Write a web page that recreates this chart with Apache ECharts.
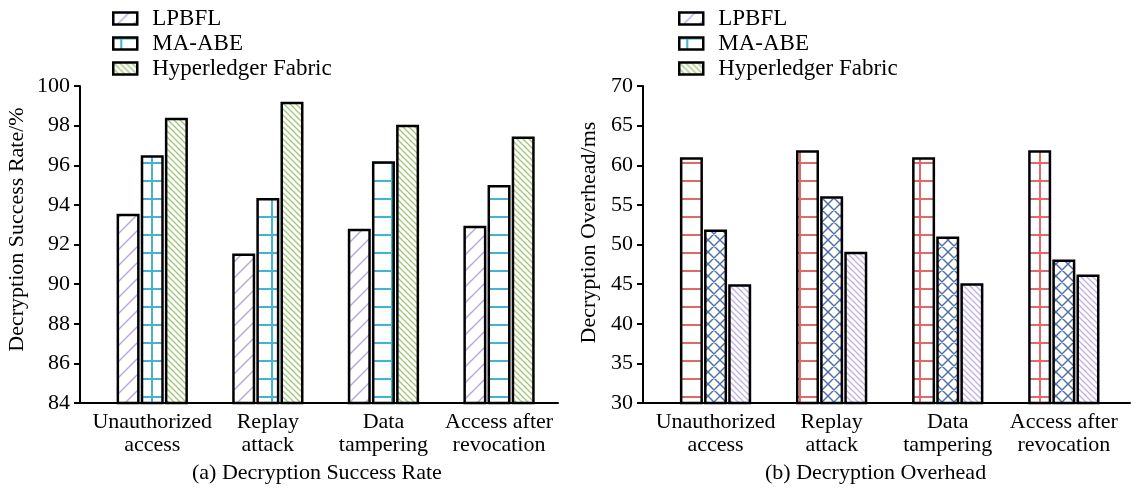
<!DOCTYPE html>
<html>
<head>
<meta charset="utf-8">
<script src="https://cdn.jsdelivr.net/npm/echarts@6/dist/echarts.min.js"></script>
<style>
  html, body { margin: 0; padding: 0; background: #fff; }
  #chart { width: 1137px; height: 488px; }
</style>
</head>
<body>
<div id="chart"></div>
<script>
// categories (x axis)
const categories = ['Unauthorized\naccess', 'Replay\nattack', 'Data\ntampering', 'Access after\nrevocation'];
const seriesNames = ['LPBFL', 'MA-ABE', 'Hyperledger Fabric'];

// (a) decryption success rate, %
const rateLPBFL = [93.55, 91.55, 92.8, 92.95];
const rateMAABE = [96.5, 94.35, 96.2, 95.0];
const rateFabric = [98.4, 99.2, 98.05, 97.45];

// (b) decryption overhead, ms
const costLPBFL = [61.0, 61.9, 61.0, 61.9];
const costMAABE = [51.9, 56.1, 51.0, 48.1];
const costFabric = [45.0, 49.1, 45.1, 46.2];

const FONT = "'Liberation Serif', 'Times New Roman', serif";

// pattern helpers
function makePattern(w, h, color, lw, draw) {
  const c = document.createElement('canvas');
  c.width = w; c.height = h;
  const ctx = c.getContext('2d');
  ctx.fillStyle = '#fff';
  ctx.fillRect(0, 0, w, h);
  ctx.strokeStyle = color;
  ctx.lineWidth = lw;
  ctx.beginPath();
  draw(ctx, w, h);
  ctx.stroke();
  return { image: c, repeat: 'repeat' };
}
function slash(ctx, w, h) {
  ctx.moveTo(0, h); ctx.lineTo(w, 0);
  ctx.moveTo(-2, 2); ctx.lineTo(2, -2);
  ctx.moveTo(w - 2, h + 2); ctx.lineTo(w + 2, h - 2);
}
function backslash(ctx, w, h) {
  ctx.moveTo(0, 0); ctx.lineTo(w, h);
  ctx.moveTo(w - 2, -2); ctx.lineTo(w + 2, 2);
  ctx.moveTo(-2, h - 2); ctx.lineTo(2, h + 2);
}
function grid(ctx, w, h) {
  ctx.moveTo(w / 3, 0); ctx.lineTo(w / 3, h);
  ctx.moveTo(0, 1); ctx.lineTo(w, 1);
}
function cross(ctx, w, h) {
  slash(ctx, w, h);
  backslash(ctx, w, h);
}

const patPurpleSparse = makePattern(16, 16, '#b7a6dc', 1.4, slash);
const patBlueGrid = makePattern(24, 18, '#45b3d3', 2, grid);
const patGreenDense = makePattern(6, 6, '#a6c77a', 1.4, backslash);
const patRedGrid = makePattern(24, 18, '#e06a6a', 2, grid);
const patBlueCross = makePattern(12, 12, '#4b6ea8', 1.4, cross);
const patPurpleDense = makePattern(6, 6, '#c3b3e2', 1.4, backslash);

const leftPats = [patPurpleSparse, patBlueGrid, patGreenDense];
const rightPats = [patRedGrid, patBlueCross, patPurpleDense];

function barSeries(name, values, pattern, idx) {
  return {
    type: 'bar',
    name: name,
    xAxisIndex: idx,
    yAxisIndex: idx,
    barWidth: 23,
    barGap: '5%',
    data: values.map((v, i) => [i, v]),
    itemStyle: { color: pattern, borderColor: '#000', borderWidth: 2.5 },
    emphasis: { disabled: true }
  };
}

function legendFor(left) {
  return {
    orient: 'vertical',
    left: left,
    top: 2,
    itemWidth: 24,
    itemHeight: 12,
    itemGap: 2,
    selectedMode: false,
    textStyle: { fontFamily: FONT, fontSize: 23, color: '#000', lineHeight: 20, padding: [0, 0, 0, 10] },
    data: seriesNames.map((n, i) => ({
      name: n,
      icon: 'rect',
      itemStyle: { color: leftPats[i], borderColor: '#000', borderWidth: 2.5 }
    }))
  };
}

function xAxisFor(idx, max) {
  return {
    type: 'value',
    gridIndex: idx,
    min: -0.625,
    max: max,
    splitLine: { show: false },
    axisTick: { show: false },
    axisLine: { show: true, onZero: false, lineStyle: { color: '#000', width: 2 } },
    axisLabel: {
      customValues: [0, 1, 2, 3],
      formatter: v => categories[Math.round(v)] || '',
      fontFamily: FONT, fontSize: 22, lineHeight: 23, color: '#000', margin: 8
    }
  };
}

function yAxisFor(idx, min, max, interval, name, nameGap, shift) {
  return {
    type: 'value',
    gridIndex: idx,
    min: min,
    max: max,
    interval: interval,
    name: name,
    nameLocation: 'middle',
    nameGap: nameGap,
    nameTextStyle: { fontFamily: FONT, fontSize: 22, color: '#000', padding: [0, 0, 0, shift] },
    splitLine: { show: false },
    axisLine: { show: true, onZero: false, lineStyle: { color: '#000', width: 2 } },
    axisTick: { show: true, inside: false, length: 6, lineStyle: { color: '#000', width: 2 } },
    axisLabel: { fontFamily: FONT, fontSize: 22, color: '#000', margin: 10 }
  };
}

const titleStyle = { fontFamily: FONT, fontSize: 22, fontWeight: 'normal', color: '#000' };

const chart = echarts.init(document.getElementById('chart'), null, { renderer: 'canvas' });
chart.setOption({
  backgroundColor: '#fff',
  animation: false,
  title: [
    { text: '(a) Decryption Success Rate', left: 187, top: 457, textStyle: titleStyle },
    { text: '(b) Decryption Overhead', left: 760, top: 457, textStyle: titleStyle }
  ],
  legend: [legendFor(107), legendFor(673)],
  grid: [
    { left: 80, right: 579, top: 86, bottom: 85 },
    { left: 643, right: 7, top: 86, bottom: 85 }
  ],
  xAxis: [xAxisFor(0, 3.51), xAxisFor(1, 3.57)],
  yAxis: [
    yAxisFor(0, 84, 100, 2, 'Decryption Success Rate/%', 52, 30),
    yAxisFor(1, 30, 70, 5, 'Decryption Overhead/ms', 43, 24)
  ],
  series: [
    barSeries(seriesNames[0], rateLPBFL, leftPats[0], 0),
    barSeries(seriesNames[1], rateMAABE, leftPats[1], 0),
    barSeries(seriesNames[2], rateFabric, leftPats[2], 0),
    barSeries(seriesNames[0], costLPBFL, rightPats[0], 1),
    barSeries(seriesNames[1], costMAABE, rightPats[1], 1),
    barSeries(seriesNames[2], costFabric, rightPats[2], 1)
  ]
});
</script>
</body>
</html>
